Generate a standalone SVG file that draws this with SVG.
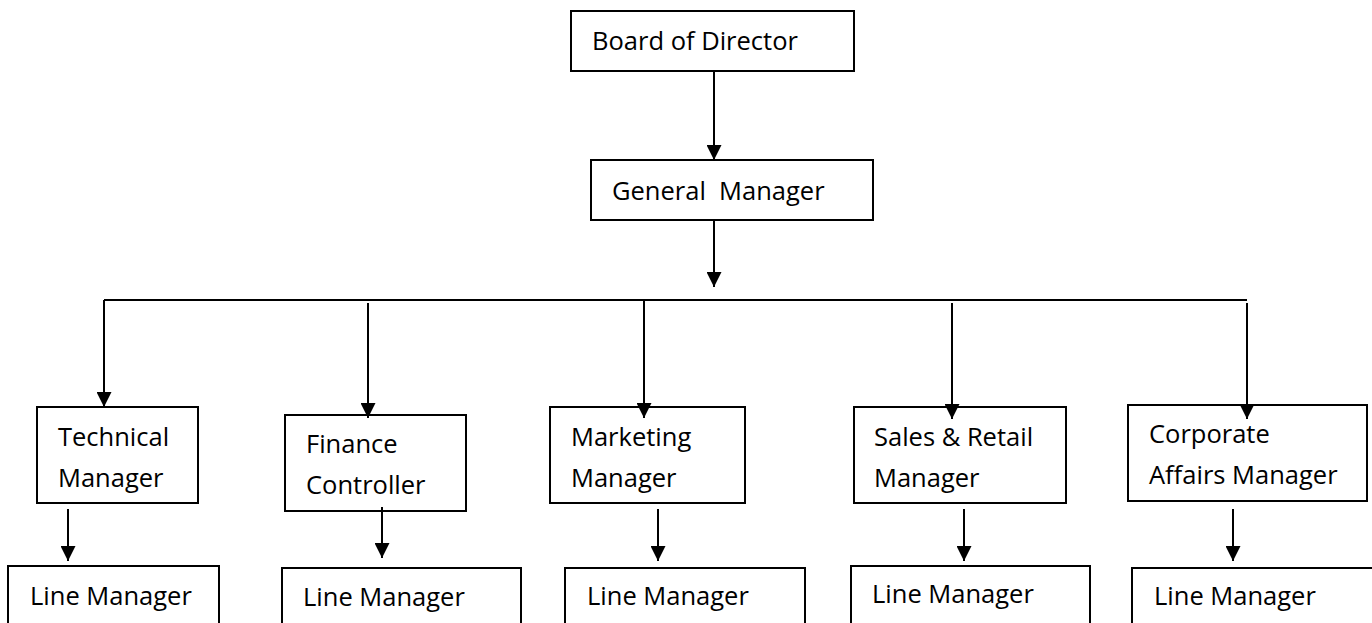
<svg xmlns="http://www.w3.org/2000/svg" width="1372" height="623" viewBox="0 0 1372 623">
  <style>
    .box { fill: #ffffff; stroke: #000000; stroke-width: 2; }
    .lbl { font-family: "Open Sans", "Liberation Sans", sans-serif; font-size: 25.5px; fill: #000000; }
    .wire { fill: none; stroke: #000000; stroke-width: 2; }
    .arr { fill: none; stroke: #000000; stroke-width: 2; marker-end: url(#head); }
  </style>
  <defs>
    <marker id="head" viewBox="0 0 15 15" refX="15" refY="7.5" markerWidth="15" markerHeight="15" markerUnits="userSpaceOnUse" orient="auto">
      <path d="M0,0 L15,7.5 L0,15 Z" fill="#000000"/>
    </marker>
  </defs>
  <rect width="1372" height="623" fill="#ffffff"/>

  <g id="board">
    <rect class="box" x="571" y="11" width="283" height="60"/>
    <text class="lbl" x="592" y="50">Board of Director</text>
  </g>
  <g id="general-manager">
    <rect class="box" x="591" y="160" width="282" height="60"/>
    <text class="lbl" x="612" y="200" xml:space="preserve">General  Manager</text>
  </g>

  <g id="technical-manager">
    <rect class="box" x="37" y="407" width="161" height="96"/>
    <text class="lbl" x="58" y="446">Technical</text>
    <text class="lbl" x="58" y="487">Manager</text>
  </g>
  <g id="finance-controller">
    <rect class="box" x="285" y="415" width="181" height="96"/>
    <text class="lbl" x="306" y="453">Finance</text>
    <text class="lbl" x="306" y="494">Controller</text>
  </g>
  <g id="marketing-manager">
    <rect class="box" x="550" y="407" width="195" height="96"/>
    <text class="lbl" x="571" y="446">Marketing</text>
    <text class="lbl" x="571" y="487">Manager</text>
  </g>
  <g id="sales-retail-manager">
    <rect class="box" x="854" y="407" width="212" height="96"/>
    <text class="lbl" x="874" y="446">Sales &amp; Retail</text>
    <text class="lbl" x="874" y="487">Manager</text>
  </g>
  <g id="corporate-affairs-manager">
    <rect class="box" x="1128" y="405" width="239" height="96"/>
    <text class="lbl" x="1149" y="443">Corporate</text>
    <text class="lbl" x="1149" y="484">Affairs Manager</text>
  </g>

  <g id="line-manager-1">
    <rect class="box" x="8" y="566" width="211" height="70"/>
    <text class="lbl" x="30" y="605">Line Manager</text>
  </g>
  <g id="line-manager-2">
    <rect class="box" x="282" y="568" width="239" height="70"/>
    <text class="lbl" x="303" y="606">Line Manager</text>
  </g>
  <g id="line-manager-3">
    <rect class="box" x="565" y="568" width="240" height="70"/>
    <text class="lbl" x="587" y="605">Line Manager</text>
  </g>
  <g id="line-manager-4">
    <rect class="box" x="851" y="566" width="239" height="70"/>
    <text class="lbl" x="872" y="603">Line Manager</text>
  </g>
  <g id="line-manager-5">
    <rect class="box" x="1132" y="568" width="250" height="70"/>
    <text class="lbl" x="1154" y="605">Line Manager</text>
  </g>

  <!-- connectors drawn last so the arrowheads sit on top of the box edges -->
  <g id="connectors">
    <line class="arr" x1="714" y1="71" x2="714" y2="160"/>
    <line class="arr" x1="714" y1="220" x2="714" y2="287"/>
    <line class="wire" x1="104" y1="300" x2="1247" y2="300"/>
    <line class="arr" x1="104" y1="300" x2="104" y2="407"/>
    <line class="arr" x1="368" y1="303" x2="368" y2="418"/>
    <line class="arr" x1="644" y1="300" x2="644" y2="418"/>
    <line class="arr" x1="952" y1="303" x2="952" y2="419"/>
    <line class="arr" x1="1247" y1="303" x2="1247" y2="419"/>
    <line class="arr" x1="68" y1="509" x2="68" y2="561"/>
    <line class="arr" x1="382" y1="507" x2="382" y2="558"/>
    <line class="arr" x1="658" y1="509" x2="658" y2="561"/>
    <line class="arr" x1="964" y1="509" x2="964" y2="561"/>
    <line class="arr" x1="1233" y1="509" x2="1233" y2="561"/>
  </g>
</svg>
